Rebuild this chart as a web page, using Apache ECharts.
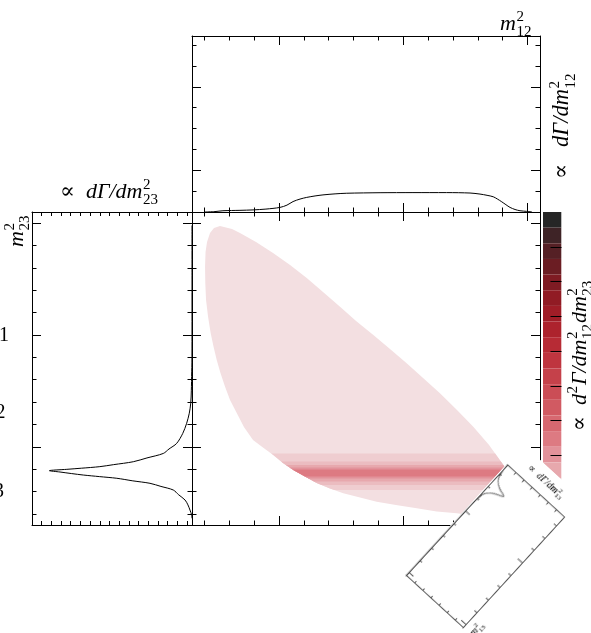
<!DOCTYPE html>
<html><head><meta charset="utf-8">
<script src="https://cdn.jsdelivr.net/npm/echarts@6/dist/echarts.min.js"></script>
<style>
html,body{margin:0;padding:0;background:#fff;overflow:hidden;}
#wrap{position:relative;width:591px;height:633px;overflow:hidden;background:#fff;}
#main{position:absolute;left:0;top:0;width:591px;height:633px;}
#rot{position:absolute;background:#fff;}
</style></head><body>
<div id="wrap"><div id="main"></div><div id="rot"></div></div>
<script>
// ================= DATA =================
// Dalitz boundary (m12^2, m23^2) (clockwise from top tip)
const boundaryM12 = [0.525,0.622,0.686,0.815,0.952,1.089,1.223,1.354,1.491,1.620,1.759,1.893,2.027,2.159,2.295,2.432,2.563,2.690,2.805,
  2.875,2.931,2.971,2.947,2.818,2.657,2.537,
  2.430,2.269,2.108,1.941,1.786,1.652,1.517,1.410,1.303,1.209,1.115,1.032,0.954,0.871,0.791,0.718,0.660,0.606,0.566,0.529,0.499,0.473,0.450,0.429,0.413,0.407,0.405,0.409,0.421,0.445,0.477];
const boundaryM23 = [2.975,2.948,2.912,2.832,2.733,2.626,2.510,2.384,2.253,2.125,2.000,1.874,1.747,1.615,1.478,1.329,1.179,1.016,0.837,
  0.703,0.613,0.524,0.443,0.394,0.385,0.389,
  0.405,0.421,0.449,0.479,0.508,0.546,0.584,0.627,0.676,0.734,0.792,0.855,0.926,0.993,1.060,1.177,1.302,1.418,1.537,1.660,1.776,1.897,2.018,2.165,2.313,2.465,2.611,2.742,2.832,2.912,2.957];
// resonance band contour layers in m23^2
const bandLow   = [0.613, 0.658, 0.689, 0.716, 0.734];
const bandHigh  = [0.940, 0.868, 0.837, 0.814, 0.796];
const bandLevel = [2, 3, 4, 5, 6];
// colour levels (bottom -> top of colour bar)
const levelValues = [1,2,3,4,5,6,7,8,9,10,11,12,13,14,15,16,17,18,19,20];
const levelColors = ['#f3dfe1','#efcdd0','#ebbcc0','#e7a8ad','#e2929a','#dd7a82','#d76870','#d15a62','#cb4d56','#c5414a',
                     '#bf353f','#b72b35','#ad232d','#a01d27','#911b24','#7f1b23','#6b1d23','#552025','#3e2326','#262626'];
// projection dGamma/dm12^2
const projM12 = [0.405,0.485,0.549,0.686,0.791,0.895,1.008,1.064,1.113,1.169,1.223,1.290,1.354,1.451,1.545,1.813,2.078,2.349,2.537,2.617,2.674,2.724,2.758,2.792,2.826,2.859,2.899,2.939,2.993,3.036];
const projM12Density = [0,0.02,0.06,0.08,0.10,0.14,0.22,0.33,0.50,0.62,0.70,0.77,0.82,0.87,0.90,0.925,0.93,0.93,0.91,0.86,0.80,0.73,0.62,0.49,0.35,0.22,0.12,0.06,0.03,0];
// projection dGamma/dm23^2
const projM23 = [2.98,2.50,2.00,1.75,1.67,1.50,1.39,1.30,1.21,1.12,1.03,0.98,0.94,0.90,0.866,0.84,0.822,0.808,0.798,0.786,0.774,0.760,0.747,0.733,0.718,0.695,0.673,0.645,0.613,0.570,0.524,0.480,0.434,0.389,0.360];
const projM23Density = [0,0,0,0.01,0.03,0.07,0.13,0.28,0.55,0.95,1.58,2.37,2.96,4.64,6.05,8.07,9.5,11.4,12.9,14.7,13.6,12.4,11.2,9.55,7.75,6.1,4.33,3.2,1.93,1.37,0.72,0.42,0.21,0.03,0];
// projection dGamma/dm13^2
const projM13 = [0.25,0.329,0.413,0.456,0.489,0.528,0.561,0.594,0.625,0.678,0.722,0.846,1.087,2.048];
const projM13Density = [0,0.05,0.15,0.3,0.51,1.0,1.71,1.2,0.72,0.3,0.14,0.04,0.01,0];
// ticks
const massMinorTicks = [0.4,0.6,0.8,1.2,1.4,1.6,1.8,2.2,2.4,2.6,2.8,3.0];
const massMajorTicks = [1,2,3];
const topDensMinorTicks = [1,3,4,5,7,8];
const topDensMajorTicks = [2,6];
const leftDensTicks = [0.5,1.5,2.5,3.5,4.5,5.5,6.5,7.5,8.5,9.5,10.5,11.5,12.5,13.5,14.5,15.5];
const colorbarTicks = [1,2,3,4,5,6,7,8];
const m13MinorTicks = [0.4,0.6,0.8,1.2,1.4,1.6,1.8];
const m13MajorTicks = [1,2];
const rotDensTicks = [1,2,3,4,5,6];
const edgeLabels = ['1','2','3'];

// ================= HELPERS =================
const SERIF = '"Liberation Serif","Times New Roman","DejaVu Serif",serif';
const mctx = document.createElement('canvas').getContext('2d');
function textW(t, font){ mctx.font = font; return mctx.measureText(t).width; }
function txt(x, y, text, font){
  return {type:'text', x, y, silent:true, style:{text, font, fill:'#000', align:'left', verticalAlign:'middle', textAlign:'left', textVerticalAlign:'middle'}};
}
function mathLabel(x, y, rotation, segs, size){
  const sSize = Math.round(size*0.68);
  const sFont = sSize + 'px ' + SERIF;
  const children = [];
  let cx = 0;
  segs.forEach(s => {
    if (s.t !== undefined){
      const f = (s.u ? '' : 'italic ') + size + 'px ' + SERIF;
      children.push(txt(cx, 0, s.t, f));
      cx += textW(s.t, f);
    } else {
      let w = 0;
      if (s.sup){ children.push(txt(cx+0.5, -size*0.33, s.sup, sFont)); w = Math.max(w, textW(s.sup, sFont)); }
      if (s.sub){ children.push(txt(cx+0.5, size*0.36, s.sub, sFont)); w = Math.max(w, textW(s.sub, sFont)); }
      cx += w + 1.5;
    }
  });
  return {type:'group', x, y, rotation, silent:true, children};
}
function axis(o){
  const c = o.color || '#000';
  return {
    type:'value', gridIndex:o.grid, position:o.pos, min:o.min, max:o.max, inverse:!!o.inverse, show: o.show !== false, silent:true,
    z: o.z || 0,
    axisLine:{show:!!o.line, onZero:false, lineStyle:{color:c, width:1}},
    axisTick:{show:!!o.ticks, inside:true, length:o.len||4, customValues:o.ticks, lineStyle:{color:c, width:1}},
    axisLabel:{show:false}, splitLine:{show:false}, minorTick:{show:false}
  };
}
function clipStrip(xs, ys, lo, hi){
  let pts = xs.map((x,i)=>[x, ys[i]]);
  const at = (a,b,y)=>{ const t=(y-a[1])/(b[1]-a[1]); return [a[0]+t*(b[0]-a[0]), y]; };
  const clipEdge = (poly, inside, yv)=>{
    const out=[];
    for(let i=0;i<poly.length;i++){
      const cur=poly[i], prev=poly[(i+poly.length-1)%poly.length];
      const ci=inside(cur), pi=inside(prev);
      if(ci){ if(!pi) out.push(at(prev,cur,yv)); out.push(cur); }
      else if(pi) out.push(at(prev,cur,yv));
    }
    return out;
  };
  pts = clipEdge(pts, p=>p[1]>=lo, lo);
  pts = clipEdge(pts, p=>p[1]<=hi, hi);
  return pts;
}

// ================= MAIN CHART =================
const M = [0.3, 3.1];
const TOPMAX = 8.441, LEFTMAX = 16.49;
const layers = [{lo:-Infinity, hi:Infinity, level:1}].concat(bandLevel.map((l,i)=>({lo:bandLow[i], hi:bandHigh[i], level:l})));

const xAxes = [
  axis({grid:0,pos:'bottom',min:M[0],max:M[1],line:true,ticks:massMinorTicks,len:4.5}),
  axis({grid:0,pos:'bottom',min:M[0],max:M[1],ticks:massMajorTicks,len:9}),
  axis({grid:0,pos:'top',min:M[0],max:M[1],line:true,ticks:massMinorTicks,len:4.5}),
  axis({grid:0,pos:'top',min:M[0],max:M[1],ticks:massMajorTicks,len:9}),
  axis({grid:1,pos:'bottom',min:M[0],max:M[1],line:true,ticks:massMinorTicks,len:4.5}),
  axis({grid:1,pos:'bottom',min:M[0],max:M[1],ticks:massMajorTicks,len:9}),
  axis({grid:1,pos:'top',min:M[0],max:M[1],line:true,ticks:massMinorTicks,len:4.5}),
  axis({grid:1,pos:'top',min:M[0],max:M[1],ticks:massMajorTicks,len:9}),
  axis({grid:2,pos:'bottom',min:0,max:LEFTMAX,inverse:true,line:true,ticks:leftDensTicks,len:4}),
  axis({grid:2,pos:'top',min:0,max:LEFTMAX,inverse:true,line:true,ticks:leftDensTicks,len:4}),
  axis({grid:3,pos:'bottom',min:0,max:1,show:false})
];
const yAxes = [
  axis({grid:0,pos:'left',min:M[0],max:M[1],line:true,ticks:massMinorTicks,len:4.5}),
  axis({grid:0,pos:'left',min:M[0],max:M[1],ticks:massMajorTicks,len:9}),
  axis({grid:0,pos:'right',min:M[0],max:M[1],line:true,ticks:massMinorTicks,len:4.5}),
  axis({grid:0,pos:'right',min:M[0],max:M[1],ticks:massMajorTicks,len:9}),
  axis({grid:1,pos:'left',min:0,max:TOPMAX,line:true,ticks:topDensMinorTicks,len:4.5}),
  axis({grid:1,pos:'left',min:0,max:TOPMAX,ticks:topDensMajorTicks,len:9}),
  axis({grid:1,pos:'right',min:0,max:TOPMAX,line:true,ticks:topDensMinorTicks,len:4.5}),
  axis({grid:1,pos:'right',min:0,max:TOPMAX,ticks:topDensMajorTicks,len:9}),
  axis({grid:2,pos:'left',min:M[0],max:M[1],line:true,ticks:massMinorTicks,len:4.5}),
  axis({grid:2,pos:'left',min:M[0],max:M[1],ticks:massMajorTicks,len:9}),
  axis({grid:2,pos:'right',min:M[0],max:M[1],line:true,ticks:massMinorTicks,len:4.5}),
  axis({grid:2,pos:'right',min:M[0],max:M[1],ticks:massMajorTicks,len:9}),
  axis({grid:3,pos:'right',min:0,max:9,ticks:colorbarTicks,len:11,z:20})
];

const graphics = [
  mathLabel(500, 24, 0, [{t:'m'},{sup:'2',sub:'12'}], 22),
  mathLabel(562.5, 179, Math.PI/2, [{t:'\u221D',u:true},{t:'   d\u0393/dm'},{sup:'2',sub:'12'}], 22.5),
  mathLabel(60, 192, 0, [{t:'\u221D',u:true},{t:'  d\u0393/dm'},{sup:'2',sub:'23'}], 22),
  mathLabel(17, 247, Math.PI/2, [{t:'m'},{sup:'2',sub:'23'}], 22),
  mathLabel(580, 431, Math.PI/2, [{t:'\u221D',u:true},{t:'  d'},{sup:'2'},{t:'\u0393/dm'},{sup:'2',sub:'12'},{t:'dm'},{sup:'2',sub:'23'}], 22)
];
const edgePos = [[9,336],[5.5,413],[4,492]];
edgeLabels.forEach((l,i)=>{
  graphics.push({type:'text', x:edgePos[i][0], y:edgePos[i][1], silent:true,
    style:{text:l, font:'20px '+SERIF, fill:'#000', align:'right', verticalAlign:'middle', textAlign:'right', textVerticalAlign:'middle'}});
});

const chart = echarts.init(document.getElementById('main'), null, {renderer:'canvas', devicePixelRatio:1});
chart.setOption({
  animation:false,
  backgroundColor:'#fff',
  grid:[
    {left:192, top:212, width:348, height:313, outerBoundsMode:'none'},
    {left:192, top:36, width:348, height:176, outerBoundsMode:'none'},
    {left:32, top:212, width:160, height:313, outerBoundsMode:'none'},
    {left:543, top:212, width:18.5, height:313, outerBoundsMode:'none'}
  ],
  xAxis: xAxes,
  yAxis: yAxes,
  visualMap: {
    type:'piecewise', seriesIndex:0, dimension:2, orient:'vertical', left:543, top:212, z:2,
    itemWidth:18.3, itemHeight:15.65, itemGap:0, itemSymbol:'rect', showLabel:false, padding:0,
    selectedMode:false, hoverLink:false, textGap:0,
    pieces: levelValues.slice().reverse().map((v)=>({value:v, color:levelColors[v-1]}))
  },
  series:[
    {
      type:'custom', coordinateSystem:'cartesian2d', xAxisIndex:0, yAxisIndex:0, clip:true, silent:true, z:1,
      encode:{x:0, y:1},
      data: layers.map(l=>({value:[1.5, isFinite(l.lo)?(l.lo+l.hi)/2:1.7, l.level]})),
      renderItem: function(params, api){
        const l = layers[params.dataIndex];
        const poly = isFinite(l.lo) ? clipStrip(boundaryM12, boundaryM23, l.lo, l.hi) : boundaryM12.map((x,i)=>[x, boundaryM23[i]]);
        if (poly.length < 3) return null;
        return {type:'polygon', shape:{points: poly.map(p=>api.coord(p))}, style:{fill: api.visual('color'), stroke:null}};
      }
    },
    {
      type:'line', xAxisIndex:4, yAxisIndex:4, symbol:'none', smooth:0.3, silent:true, z:3,
      lineStyle:{color:'#000', width:1},
      data: projM12.map((x,i)=>[x, projM12Density[i]])
    },
    {
      type:'line', xAxisIndex:8, yAxisIndex:8, symbol:'none', smooth:0.3, silent:true, z:3,
      lineStyle:{color:'#000', width:1},
      data: projM23.map((y,i)=>[projM23Density[i], y])
    }
  ],
  graphic: graphics
});

// ================= ROTATED m13 PANEL =================
const padL=4, padT=1, RW=149.6, RH=77, padR=26, padB=26;
const rotDiv = document.getElementById('rot');
const dW = padL+RW+padR, dH = padT+RH+padB;
const ox = padL+RW/2, oy = padT+RH/2;
rotDiv.style.width = dW+'px';
rotDiv.style.height = dH+'px';
rotDiv.style.left = (484.3-ox)+'px';
rotDiv.style.top = (546.7-oy)+'px';
rotDiv.style.transformOrigin = ox+'px '+oy+'px';
rotDiv.style.transform = 'rotate(-47.5deg)';
const M13 = [0.25, 2.048], RDMAX = 7;
const rc = '#555';
const rot = echarts.init(rotDiv, null, {renderer:'canvas', devicePixelRatio:1, width:dW, height:dH});
rot.setOption({
  animation:false,
  backgroundColor:'#fff',
  grid:{left:padL, top:padT, width:RW, height:RH, outerBoundsMode:'none'},
  xAxis:[
    axis({grid:0,pos:'bottom',min:M13[0],max:M13[1],inverse:true,line:true,ticks:m13MinorTicks,len:3,color:rc}),
    axis({grid:0,pos:'bottom',min:M13[0],max:M13[1],inverse:true,ticks:m13MajorTicks,len:6,color:rc}),
    axis({grid:0,pos:'top',min:M13[0],max:M13[1],inverse:true,line:true,ticks:m13MinorTicks,len:3,color:rc}),
    axis({grid:0,pos:'top',min:M13[0],max:M13[1],inverse:true,ticks:m13MajorTicks,len:6,color:rc})
  ],
  yAxis:[
    axis({grid:0,pos:'left',min:0,max:RDMAX,inverse:true,line:true,ticks:rotDensTicks,len:3,color:rc}),
    axis({grid:0,pos:'right',min:0,max:RDMAX,inverse:true,line:true,ticks:rotDensTicks,len:3,color:rc})
  ],
  series:[{
    type:'line', xAxisIndex:0, yAxisIndex:0, symbol:'none', smooth:0.3, silent:true,
    lineStyle:{color:'#444', width:1},
    data: projM13.map((x,i)=>[x, projM13Density[i]])
  }],
  graphic:[
    mathLabel(padL+RW+13.4, padT+17.3, -Math.PI/2, [{t:'\u221D',u:true},{t:'  d\u0393/dm'},{sup:'2',sub:'13'}], 10),
    mathLabel(padL+1, padT+RH+11.5, 0, [{t:'m'},{sup:'2',sub:'13'}], 10)
  ]
});
</script>
</body></html>
